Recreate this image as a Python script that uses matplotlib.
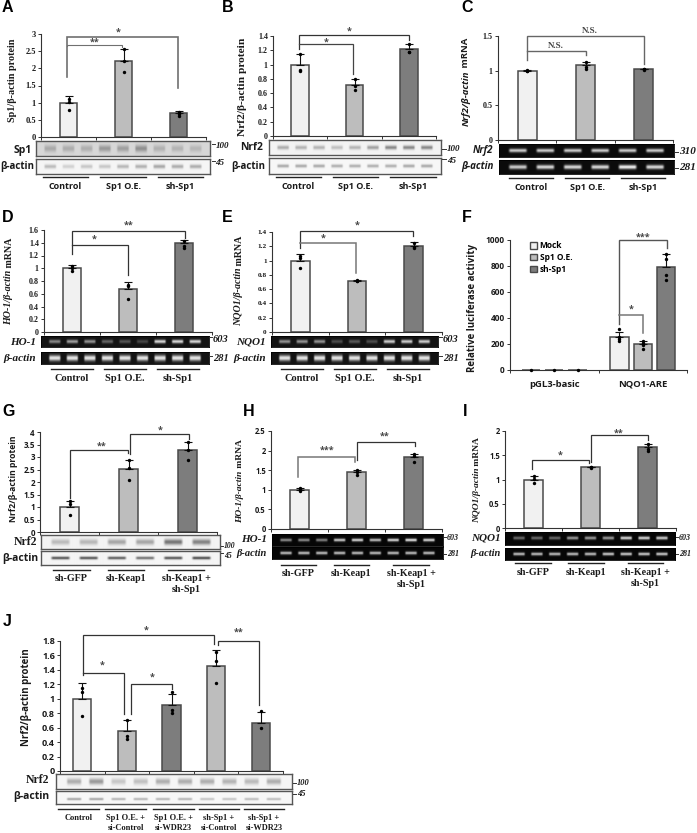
import numpy as np
import matplotlib
matplotlib.use("Agg")
import matplotlib.pyplot as plt
from matplotlib.lines import Line2D
from matplotlib.patches import Patch

W, H = 697, 833
SERIF = "Liberation Serif"
SANS = "Open Sans"
LIGHT, MID, DARK = "#f1f1f1", "#bdbdbd", "#7d7d7d"
EDGE = "#4a4a4a"

# ---------- data ----------
A_means = [1.0, 2.22, 0.70]
A_errs = [0.19, 0.33, 0.07]
A_points = [[1.10, 1.03, 0.78], [2.55, 2.20, 1.88], [0.72, 0.68, 0.61]]
A_ticks = [0, 0.5, 1, 1.5, 2, 2.5, 3]

B_means = [1.0, 0.71, 1.22]
B_errs = [0.15, 0.09, 0.07]
B_points = [[1.15, 0.93, 0.91], [0.80, 0.70, 0.64], [1.29, 1.18, 1.17]]
B_ticks = [0, 0.2, 0.4, 0.6, 0.8, 1, 1.2, 1.4]

C_means = [1.0, 1.08, 1.02]
C_errs = [0.01, 0.05, 0.01]
C_points = [[1.01, 1.0, 0.99], [1.13, 1.06, 1.03], [1.02, 1.02, 1.01]]
C_ticks = [0, 0.5, 1, 1.5]

D_means = [1.0, 0.67, 1.39]
D_errs = [0.05, 0.11, 0.05]
D_points = [[1.03, 1.01, 0.95], [0.73, 0.72, 0.52], [1.42, 1.35, 1.32]]
D_ticks = [0, 0.2, 0.4, 0.6, 0.8, 1, 1.2, 1.4, 1.6]

E_means = [1.0, 0.72, 1.21]
E_errs = [0.09, 0.01, 0.05]
E_points = [[1.07, 1.03, 0.89], [0.73, 0.72, 0.71], [1.25, 1.19, 1.17]]
E_ticks = [0, 0.2, 0.4, 0.6, 0.8, 1, 1.2, 1.4]

F_groups = ["pGL3-basic", "NQO1-ARE"]
F_series = ["Mock", "Sp1 O.E.", "sh-Sp1"]
F_means = [[3, 3, 3], [255, 200, 795]]
F_errs = [[0, 0, 0], [40, 25, 95]]
F_points = [[[3], [3], [3]],
            [[315, 250, 235, 225], [225, 205, 190, 165], [890, 855, 730, 690]]]
F_ticks = [0, 200, 400, 600, 800, 1000]

G_means = [1.0, 2.52, 3.27]
G_errs = [0.25, 0.37, 0.35]
G_points = [[1.25, 1.13, 0.70], [2.90, 2.55, 2.10], [3.62, 3.27, 2.88]]
G_ticks = [0, 0.5, 1, 1.5, 2, 2.5, 3, 3.5, 4]

H_means = [1.0, 1.45, 1.84]
H_errs = [0.05, 0.06, 0.08]
H_points = [[1.04, 1.01, 0.97], [1.50, 1.45, 1.39], [1.92, 1.85, 1.72]]
H_ticks = [0, 0.5, 1, 1.5, 2, 2.5]

I_means = [1.0, 1.25, 1.66]
I_errs = [0.08, 0.01, 0.07]
I_points = [[1.07, 1.01, 0.92], [1.25, 1.25, 1.24], [1.73, 1.62, 1.58]]
I_ticks = [0, 0.5, 1, 1.5, 2]

J_means = [1.0, 0.55, 0.92, 1.46, 0.67]
J_errs = [0.22, 0.15, 0.15, 0.21, 0.15]
J_points = [[1.15, 1.10, 0.76], [0.70, 0.48, 0.45], [1.10, 0.85, 0.81],
            [1.65, 1.52, 1.22], [0.83, 0.59]]
J_ticks = [0, 0.2, 0.4, 0.6, 0.8, 1, 1.2, 1.4, 1.6, 1.8]

GROUPS_ABC = ["Control", "Sp1 O.E.", "sh-Sp1"]
GROUPS_GHI = ["sh-GFP", "sh-Keap1", "sh-Keap1 +\nsh-Sp1"]
GROUPS_J = ["Control", "Sp1 O.E. +\nsi-Control", "Sp1 O.E. +\nsi-WDR23",
            "sh-Sp1 +\nsi-Control", "sh-Sp1 +\nsi-WDR23"]

# band intensities per lane
A_sp1 = [.45, .42, .40, .62, .55, .70, .38, .35, .32]
A_act = [.55, .35, .45, .45, .60, .65, .75, .70, .70]
B_nrf = [.55, .50, .50, .40, .50, .65, .85, .85, .85]
B_act = [.60, .60, .60, .55, .55, .55, .55, .60, .60]
C_nrf = [.8, .8, .8, .8, .8, .8]
C_act = [.8, .85, .85, .85, .95, .85]
D_ho = [.50, .60, .55, .35, .28, .22, .85, .85, .85]
D_act = [.9, .9, .9, .9, .9, .9, .9, .9, .9]
E_nq = [.55, .55, .55, .25, .30, .25, .80, .80, .80]
E_act = [.9, .9, .9, .9, .9, .9, .9, .9, .9]
G_nrf = [.40, .42, .55, .55, .90, .80]
G_act = [.85, .85, .80, .70, .85, .90]
H_ho = [.55, .55, .50, .80, .85, .75, .85, .90, .85]
H_act = [.75, .75, .75, .75, .75, .75, .75, .75, .75]
I_nq = [.40, .40, .40, .60, .60, .60, .85, .85, .80]
I_act = [.75, .75, .75, .75, .75, .80, .80, .80, .80]
J_nrf = [.55, .70, .35, .40, .55, .55, .55, .50, .45, .55]
J_act = [.55, .55, .45, .45, .45, .45, .35, .35, .40, .40]

plt.rcParams["font.family"] = [SANS, "DejaVu Sans"]
fig = plt.figure(figsize=(W / 100, H / 100), dpi=100)
renderer = fig.canvas.get_renderer()


def fx(x):
    return x / W


def fy(y):
    return 1 - y / H


def txt(x, y, s, ha="center", va="center", size=6.5, fam=SANS, weight="bold", style="normal",
        color="#1a1a1a", rot=0):
    return fig.text(fx(x), fy(y), s, ha=ha, va=va, fontsize=size, family=fam, weight=weight,
                    style=style, color=color, rotation=rot, linespacing=1.25)


def segmented_ylabel(x, yc, parts, size, fam=SERIF):
    """Rotated label built from (text, italic?) parts, stacked bottom to top."""
    items = []
    for s, it in parts:
        t = fig.text(fx(x), fy(yc), s, rotation=90, ha="center", va="bottom", fontsize=size, family=fam,
                     weight="bold", style="italic" if it else "normal", color="#1a1a1a")
        items.append((t, t.get_window_extent(renderer).height))
    total = sum(h for _, h in items)
    pos = yc + total / 2
    for t, h in items:
        t.set_y(fy(pos))
        pos -= h


def panel(box, xlim, ylim, ticks, tickfont, ticksize):
    x0, x1, ytop, y0 = box
    ax = fig.add_axes([fx(x0), fy(y0), fx(x1 - x0), (y0 - ytop) / H])
    ax.set_xlim(*xlim)
    ax.set_ylim(*ylim)
    ax.patch.set_alpha(0)
    for s in ("top", "right"):
        ax.spines[s].set_visible(False)
    for s in ("left", "bottom"):
        ax.spines[s].set_color("#333333")
        ax.spines[s].set_linewidth(0.8)
    ax.set_yticks(ticks)
    ax.set_yticklabels([f"{t:g}" for t in ticks], fontsize=ticksize, family=tickfont, weight="bold",
                       color="#1a1a1a")
    ax.tick_params(axis="y", length=2.2, width=0.7, pad=1.5, color="#333333")
    ax.tick_params(axis="x", length=1.8, width=0.7, color="#333333", labelbottom=False)
    return ax


def bars(ax, means, errs, points, width, colors):
    xs = np.arange(len(means)) + 0.5
    draw_bars(ax, xs, means, errs, points, width, colors)
    ax.set_xticks(np.arange(len(means) + 1))


def draw_bars(ax, xs, means, errs, points, width, colors):
    ax.bar(xs, means, width=width, color=colors, edgecolor=EDGE, linewidth=1.1, zorder=2)
    for x, m, e in zip(xs, means, errs):
        if e > 0:
            ax.errorbar([x], [m], yerr=[[0], [e]], color="#111111", lw=0.8, capsize=2.8, capthick=0.8,
                        zorder=3, clip_on=False)
    for x, pts in zip(xs, points):
        ax.scatter([x] * len(pts), pts, s=6, color="black", zorder=4, clip_on=False, linewidths=0)


def bracket(ax, xl, yl, ytop, xr, yr, label, xt, yt, color="#333333", lw=0.9, fam=SANS, size=6.5):
    ax.plot([xl, xl, xr, xr], [yl, ytop, ytop, yr], color=color, lw=lw, clip_on=False, zorder=5,
            solid_joinstyle="miter")
    ax.text(xt, yt, label, ha="center", va="center", fontsize=size, family=fam, weight="bold",
            color="#444444", clip_on=False)


def blot(box, lanes, gel, thick=0.16, pos=0.5, margin=0.03, frame="#555555", bg=None, ink=None):
    x0, x1, y0, y1 = box
    nx, ny = int(x1 - x0) * 2, int(y1 - y0) * 2
    ax = fig.add_axes([fx(x0), fy(y1), fx(x1 - x0), (y1 - y0) / H])
    bgv = (0.03 if gel else 0.93) if bg is None else bg
    inkv = (1.0 if gel else 0.35) if ink is None else ink
    X = (np.arange(nx) + 0.5) / nx
    Y = (np.arange(ny) + 0.5) / ny
    img = np.full((ny, nx), bgv, float)
    n = len(lanes)
    span = 1 - 2 * margin
    for i, v in enumerate(lanes):
        c = margin + span * (i + 0.5) / n
        hw = span / n * 0.36
        px = np.clip((hw - np.abs(X - c)) / (hw * 0.25), 0, 1)
        py = np.exp(-((Y - pos) / thick) ** 2)
        img += (inkv - bgv) * v * np.outer(py, px)
    ax.imshow(img, cmap="gray", vmin=0, vmax=1, aspect="auto", interpolation="bilinear",
              extent=[0, 1, 1, 0])
    ax.set_xticks([])
    ax.set_yticks([])
    for s in ax.spines.values():
        s.set_color("black" if gel else frame)
        s.set_linewidth(0.6 if gel else 1.0)


def marker(x, y, s, dash_x0, dash_x1, dash_y, size=6.5):
    txt(x, y, s, ha="left", size=size, fam=SERIF, style="italic")
    fig.add_artist(Line2D([fx(dash_x0), fx(dash_x1)], [fy(dash_y), fy(dash_y)], color="#333333", lw=0.7))


def groups(labels, spans, uy, ty, fam, size):
    for lab, (a, b) in zip(labels, spans):
        fig.add_artist(Line2D([fx(a), fx(b)], [fy(uy), fy(uy)], color="#222222", lw=1.0))
        txt((a + b) / 2, ty, lab, va="top", size=size, fam=fam)


TRI = [LIGHT, MID, DARK]

# A
ax = panel((41, 206, 34, 137), (0, 3), (0, 3), A_ticks, SERIF, 6)
bars(ax, A_means, A_errs, A_points, 0.32, TRI)
bracket(ax, .476, 1.75, 2.92, 2.49, 1.43, "*", 1.41, 3.05, color="#707070", lw=1.2)
bracket(ax, .476, 2.65, 2.68, 1.48, 2.62, "**", .97, 2.76, color="#707070", lw=0.8)
segmented_ylabel(13, 80, [("Sp1/β-actin protein", False)], 7.3)
blot((36, 210, 141, 156), A_sp1, False, thick=.22, bg=.84, ink=.45)
blot((36, 210, 159, 174), A_act, False, thick=.13, bg=.96, ink=.55)
txt(32, 150, "Sp1", ha="right", size=7.5)
txt(34, 166, "β-actin", ha="right", size=7)
marker(216, 146, "100", 212, 215, 144)
marker(215, 163, "45", 212, 215, 161)
groups(GROUPS_ABC, [(43, 88), (100, 146), (158, 203)], 177, 182, SANS, 6.5)

# B
ax = panel((273, 436, 36, 136), (0, 3), (0, 1.4), B_ticks, SERIF, 5.8)
bars(ax, B_means, B_errs, B_points, 0.32, TRI)
bracket(ax, .474, 1.22, 1.42, 2.51, 1.34, "*", 1.41, 1.47)
bracket(ax, .474, 1.29, 1.29, 1.465, .87, "*", .98, 1.32, color="#444444")
segmented_ylabel(242, 87, [("Nrf2/β-actin protein", False)], 8.2)
blot((269, 441, 140, 155), B_nrf, False, thick=.13, bg=.95, ink=.45)
blot((269, 441, 158, 174), B_act, False, thick=.10, bg=.97, ink=.45)
txt(263, 148, "Nrf2", ha="right", size=7.5)
txt(265, 166, "β-actin", ha="right", size=7)
marker(447, 149, "100", 442, 446, 149)
marker(447, 161, "45", 442, 446, 159)
groups(GROUPS_ABC, [(276, 321), (333, 378), (390, 436)], 177, 182, SANS, 6.5)

# C
ax = panel((498, 673, 36, 140), (0, 3), (0, 1.5), C_ticks, SERIF, 5.8)
bars(ax, C_means, C_errs, C_points, 0.325, TRI)
bracket(ax, .49, 1.15, 1.5, 2.51, 1.1, "N.S.", 1.57, 1.57, color="#666666", lw=1.0, fam=SERIF, size=6.5)
bracket(ax, .49, 1.29, 1.29, 1.5, 1.22, "N.S.", .99, 1.36, color="#666666", lw=1.0, fam=SERIF, size=6.5)
segmented_ylabel(466, 82, [("Nrf2/β-actin", True), (" mRNA", False)], 6.8, fam=SANS)
blot((499, 674, 144, 157), C_nrf, True, thick=.14, bg=.05)
blot((499, 674, 160, 174), C_act, True, thick=.15, bg=.05)
txt(493, 151, "Nrf2", ha="right", size=7, style="italic")
txt(494, 167, "β-actin", ha="right", size=7, style="italic")
marker(679, 152, "310", 675, 678, 152, size=8)
marker(679, 168, "281", 675, 678, 168, size=8)
groups(GROUPS_ABC, [(509, 553), (565, 609), (621, 665)], 178, 183, SANS, 6.5)

# D
ax = panel((44, 212, 230, 332), (0, 3), (0, 1.6), D_ticks, SERIF, 5.8)
bars(ax, D_means, D_errs, D_points, 0.32, TRI)
bracket(ax, .5, 1.22, 1.58, 2.51, 1.47, "**", 1.51, 1.68)
bracket(ax, .5, 1.37, 1.37, 1.506, .9, "*", .9, 1.46)
segmented_ylabel(9, 281, [("HO-1/β-actin", True), (" mRNA", False)], 7.2)
blot((41, 209, 336, 347), D_ho, True, thick=.16, bg=.08)
blot((41, 209, 352, 364), D_act, True, thick=.24, bg=.08)
txt(36, 342, "HO-1", ha="right", size=8, fam=SERIF, style="italic")
txt(36, 358, "β-actin", ha="right", size=8, fam=SERIF, style="italic")
marker(213, 340, "603", 209, 212, 337, size=7.5)
marker(213, 358, "281", 209, 212, 356, size=7.5)
groups(GROUPS_ABC, [(51, 93), (104, 146), (157, 199)], 369, 374, SERIF, 7.5)

# E
ax = panel((272, 442, 232, 332), (0, 3), (0, 1.4), E_ticks, SERIF, 5.2)
bars(ax, E_means, E_errs, E_points, 0.335, TRI)
bracket(ax, .5, 1.17, 1.41, 2.49, 1.35, "*", 1.5, 1.5)
bracket(ax, .5, 1.25, 1.25, 1.49, .83, "*", .9, 1.31, color="#777777", lw=1.1)
segmented_ylabel(239, 281, [("NQO1/β-actin", True), (" mRNA", False)], 7.2)
blot((271, 438, 336, 347), E_nq, True, thick=.16, bg=.08)
blot((271, 438, 352, 364), E_act, True, thick=.24, bg=.08)
txt(266, 342, "NQO1", ha="right", size=8, fam=SERIF, style="italic")
txt(266, 358, "β-actin", ha="right", size=8, fam=SERIF, style="italic")
marker(443, 340, "603", 439, 442, 337, size=7.5)
marker(443, 358, "281", 439, 442, 356, size=7.5)
groups(GROUPS_ABC, [(281, 323), (334, 376), (387, 429)], 369, 374, SERIF, 7.5)

# F
ax = panel((510, 687, 240, 370), (0, 2), (0, 1000), F_ticks, SANS, 6)
F_off = [-0.264, 0.0, 0.264]
for g in range(2):
    xs = [g + 0.5 + o for o in F_off]
    draw_bars(ax, xs, F_means[g], F_errs[g], F_points[g], 0.207, TRI)
ax.set_xticks([0, 1, 2])
ax.set_xticks([0.5, 1.5], minor=True)
ax.set_xticklabels(F_groups, minor=True, fontsize=6.8, weight="bold", family=SANS, color="#1a1a1a")
ax.tick_params(axis="x", which="minor", length=0, labelbottom=True, pad=7)
bracket(ax, 1.23, 354, 1000, 1.774, 938, "***", 1.5, 1020, color="#555555", lw=1.0)
bracket(ax, 1.23, 425, 425, 1.5, 285, "*", 1.365, 470, color="#777777", lw=1.1)
ax.legend(handles=[Patch(facecolor=c, edgecolor=EDGE, label=l) for c, l in zip(TRI, F_series)],
          loc="upper left", bbox_to_anchor=(0.115, 0.99), frameon=False, handlelength=0.8,
          handleheight=0.8, handletextpad=0.3, labelspacing=0.32, borderpad=0, borderaxespad=0,
          prop={"family": SANS, "weight": "bold", "size": 6})
segmented_ylabel(472, 308, [("Relative luciferase activity", False)], 7, fam=SANS)

# G
ax = panel((40, 217, 432, 532), (0, 3), (0, 4), G_ticks, SANS, 5.8)
bars(ax, G_means, G_errs, G_points, 0.32, TRI)
bracket(ax, .515, 1.36, 3.27, 1.495, 3.16, "**", 1.04, 3.45)
bracket(ax, 1.525, 3.12, 3.92, 2.525, 3.72, "*", 2.03, 4.07)
segmented_ylabel(14, 479, [("Nrf2/β-actin protein", False)], 6.2, fam=SANS)
blot((41, 220, 535, 549), G_nrf, False, thick=.2, bg=.95, ink=.4)
blot((41, 220, 551, 565), G_act, False, thick=.1, bg=.96, ink=.2)
txt(37, 542, "Nrf2", ha="right", size=8.5, fam=SERIF)
txt(38, 558, "β-actin", ha="right", size=7.5)
marker(224, 546, "100", 221, 223, 546, size=5.5)
marker(224, 556, "45", 221, 223, 553, size=5.5)
groups(GROUPS_GHI, [(53, 90), (108, 144), (168, 204)], 570, 574, SERIF, 7.2)

# H
ax = panel((271, 442, 431, 529), (0, 3), (0, 2.5), H_ticks, SANS, 5.5)
bars(ax, H_means, H_errs, H_points, 0.32, TRI)
bracket(ax, .48, 1.33, 1.84, 1.47, 1.71, "***", .99, 2.02, color="#777777", lw=1.1)
bracket(ax, 1.515, 1.75, 2.23, 2.52, 2.11, "**", 2.0, 2.37)
segmented_ylabel(240, 481, [("HO-1/β-actin", True), (" mRNA", False)], 6.8)
blot((272, 443, 534, 546), H_ho, True, thick=.12, bg=.03)
blot((272, 443, 547, 559), H_act, True, thick=.12, bg=.03)
txt(267, 539, "HO-1", ha="right", size=8, fam=SERIF, style="italic")
txt(267, 554, "β-actin", ha="right", size=7.5, fam=SERIF, style="italic")
marker(447, 538, "603", 444, 446, 537, size=5.8)
marker(447, 554, "281", 444, 446, 554, size=5.8)
groups(GROUPS_GHI, [(281, 316), (334, 369), (393, 429)], 565, 569, SERIF, 7.2)

# I
ax = panel((505, 676, 431, 528), (0, 3), (0, 2), I_ticks, SANS, 5.5)
bars(ax, I_means, I_errs, I_points, 0.32, TRI)
bracket(ax, .48, 1.21, 1.41, 1.48, 1.33, "*", .97, 1.5)
bracket(ax, 1.51, 1.365, 1.91, 2.51, 1.81, "**", 2.0, 1.96)
segmented_ylabel(477, 480, [("NQO1/β-actin", True), (" mRNA", False)], 6.8)
blot((505, 675, 532, 545), I_nq, True, thick=.11, bg=.03)
blot((505, 675, 548, 560), I_act, True, thick=.12, bg=.03)
txt(501, 538, "NQO1", ha="right", size=8, fam=SERIF, style="italic")
txt(501, 554, "β-actin", ha="right", size=7.5, fam=SERIF, style="italic")
marker(679, 538, "603", 676, 678, 537, size=5.8)
marker(679, 554, "281", 676, 678, 554, size=5.8)
groups(GROUPS_GHI, [(515, 551), (568, 604), (628, 663)], 563, 568, SERIF, 7.2)

# J
ax = panel((60, 283, 641, 771), (0, 5), (0, 1.8), J_ticks, SANS, 6.5)
bars(ax, J_means, J_errs, J_points, 0.41, [LIGHT, MID, DARK, MID, DARK])
bracket(ax, .507, 1.33, 1.88, 3.45, 1.76, "*", 1.93, 1.95)
bracket(ax, .507, 1.36, 1.36, 1.44, .79, "*", .95, 1.46)
bracket(ax, 1.59, .79, 1.2, 2.515, 1.13, "*", 2.07, 1.3)
bracket(ax, 3.54, 1.74, 1.8, 4.455, .91, "**", 4.0, 1.93)
segmented_ylabel(27, 697, [("Nrf2/β-actin protein", False)], 7, fam=SANS)
blot((56, 292, 774, 789), J_nrf, False, thick=.2, bg=.96, ink=.45)
blot((56, 292, 791, 804), J_act, False, thick=.09, pos=.62, bg=.97, ink=.35)
txt(49, 780, "Nrf2", ha="right", size=8.5, fam=SERIF)
txt(49, 796, "β-actin", ha="right", size=7.5)
marker(297, 783, "100", 293, 296, 783, size=6)
marker(297, 794, "45", 293, 296, 794, size=6)
groups(GROUPS_J, [(58, 99), (105, 146), (153, 194), (199, 239), (244, 284)], 809, 814, SERIF, 6)

# panel letters
for letter, x, y in [("A", 2, 8), ("B", 222, 8), ("C", 461, 8), ("D", 2, 218), ("E", 222, 218),
                     ("F", 462, 218), ("G", 2, 412), ("H", 243, 412), ("I", 463, 412), ("J", 3, 622)]:
    txt(x, y, letter, ha="left", size=11.5, fam="Liberation Sans", color="black")

fig.savefig("out.png", dpi=100)
